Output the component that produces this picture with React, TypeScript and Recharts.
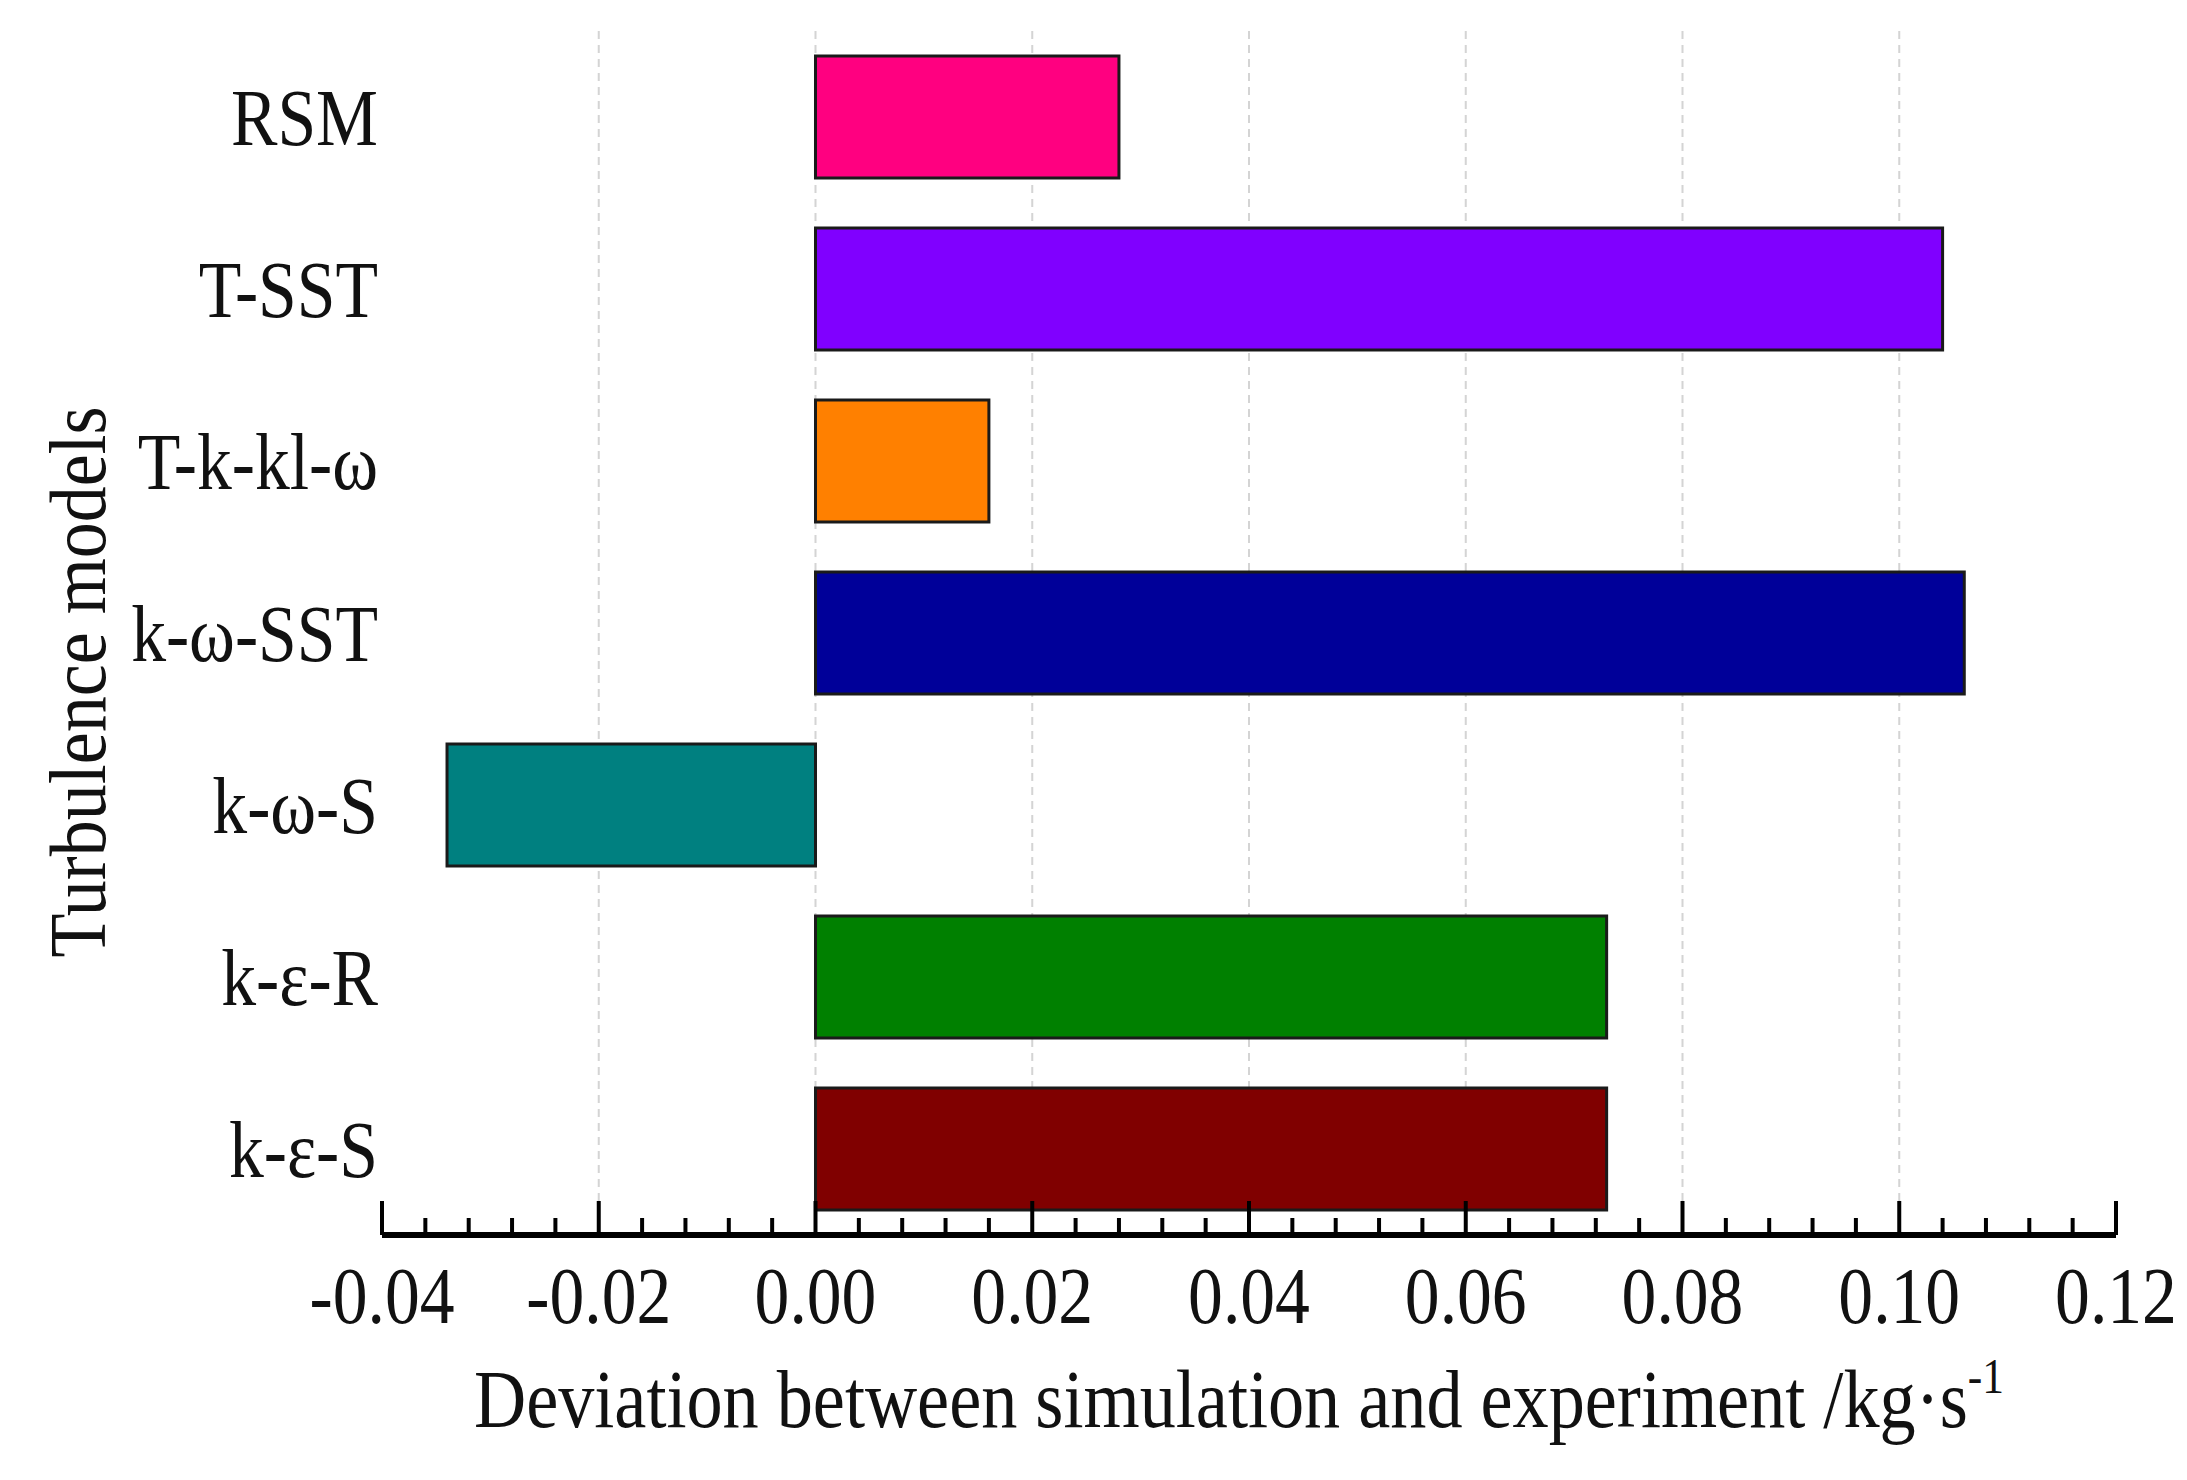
import { BarChart, Bar, XAxis, YAxis, Cell, CartesianGrid, Label } from "recharts";

const MODELS = ["RSM", "T-SST", "T-k-kl-ω", "k-ω-SST", "k-ω-S", "k-ε-R", "k-ε-S"];
const DEVIATIONS = [0.028, 0.104, 0.016, 0.106, -0.034, 0.073, 0.073];
const BAR_COLORS = ["#ff0080", "#8000ff", "#ff8000", "#000099", "#008080", "#008000", "#800000"];
const MAJOR_TICKS = [-0.04, -0.02, 0, 0.02, 0.04, 0.06, 0.08, 0.1, 0.12];
const TICK_LABELS = ["-0.04", "-0.02", "0.00", "0.02", "0.04", "0.06", "0.08", "0.10", "0.12"];
const GRID_VALUES = [-0.02, 0, 0.02, 0.04, 0.06, 0.08, 0.1];
const MINOR_PER_MAJOR = 5;

const FONT = "'Liberation Serif', 'Times New Roman', serif";
const SQUEEZE = 0.87;

const data = MODELS.map((name, i) => ({ name, value: DEVIATIONS[i] }));

// major ticks plus the little ones in between
const allTicks: number[] = [];
MAJOR_TICKS.forEach((t, i) => {
  allTicks.push(t);
  const next = MAJOR_TICKS[i + 1];
  if (next === undefined) return;
  for (let k = 1; k < MINOR_PER_MAJOR; k++) {
    allTicks.push(Math.round((t + ((next - t) * k) / MINOR_PER_MAJOR) * 1e6) / 1e6);
  }
});

function XTick(props: any) {
  const { x, y, payload } = props;
  const idx = MAJOR_TICKS.findIndex((t) => Math.abs(t - payload.value) < 1e-9);
  const major = idx >= 0;
  return (
    <g>
      <line x1={x} x2={x} y1={y} y2={y - (major ? 34 : 17)} stroke="#000" strokeWidth={4} />
      {major && (
        <text
          transform={`translate(${x},${y + 88}) scale(${SQUEEZE},1)`}
          textAnchor="middle"
          fontSize={80}
          fontFamily={FONT}
          fill="#111"
        >
          {TICK_LABELS[idx]}
        </text>
      )}
    </g>
  );
}

function YTick(props: any) {
  const { x, y, payload } = props;
  return (
    <text
      transform={`translate(${x},${y}) scale(${SQUEEZE},1)`}
      textAnchor="end"
      dy="0.35em"
      fontSize={80}
      fontFamily={FONT}
      fill="#111"
    >
      {payload.value}
    </text>
  );
}

function XTitle(props: any) {
  const vb = props.viewBox;
  const cx = vb.x + vb.width / 2 - 10;
  return (
    <text
      transform={`translate(${cx},${vb.y + 192}) scale(${SQUEEZE},1)`}
      textAnchor="middle"
      fontSize={83}
      fontFamily={FONT}
      fill="#111"
    >
      Deviation between simulation and experiment /kg·s
      <tspan dy={-34} fontSize={50}>
        -1
      </tspan>
    </text>
  );
}

function YTitle(props: any) {
  const vb = props.viewBox;
  const cy = vb.y + vb.height / 2 + 49;
  return (
    <text
      transform={`translate(${vb.x + 77},${cy}) rotate(-90) scale(0.9,1)`}
      textAnchor="middle"
      dy="0.35em"
      fontSize={80}
      fontFamily={FONT}
      fill="#111"
    >
      Turbulence models
    </text>
  );
}

export default function App() {
  return (
    <div style={{ position: "absolute", left: 0, top: 0, background: "#fff" }}>
      <BarChart
        width={2187}
        height={1480}
        data={data}
        layout="vertical"
        margin={{ top: 31, right: 71, bottom: 0, left: 0 }}
        barCategoryGap="14.5%"
      >
        <CartesianGrid
          horizontal={false}
          verticalValues={GRID_VALUES}
          stroke="#d4d4d4"
          strokeDasharray="8 6"
          strokeWidth={2}
        />
        <XAxis
          type="number"
          domain={[-0.04, 0.12]}
          ticks={allTicks}
          interval={0}
          tickSize={0}
          tickMargin={0}
          tickLine={false}
          tick={<XTick />}
          axisLine={{ stroke: "#000", strokeWidth: 6 }}
          height={245}
          allowDataOverflow
        >
          <Label content={<XTitle />} />
        </XAxis>
        <YAxis
          type="category"
          dataKey="name"
          width={382}
          axisLine={false}
          tickLine={false}
          tickSize={0}
          tickMargin={4}
          tick={<YTick />}
          interval={0}
        >
          <Label content={<YTitle />} />
        </YAxis>
        <Bar dataKey="value" stroke="#1a1a1a" strokeWidth={3} isAnimationActive={false}>
          {data.map((_, i) => (
            <Cell key={`bar-${i}`} fill={BAR_COLORS[i]} />
          ))}
        </Bar>
      </BarChart>
    </div>
  );
}
